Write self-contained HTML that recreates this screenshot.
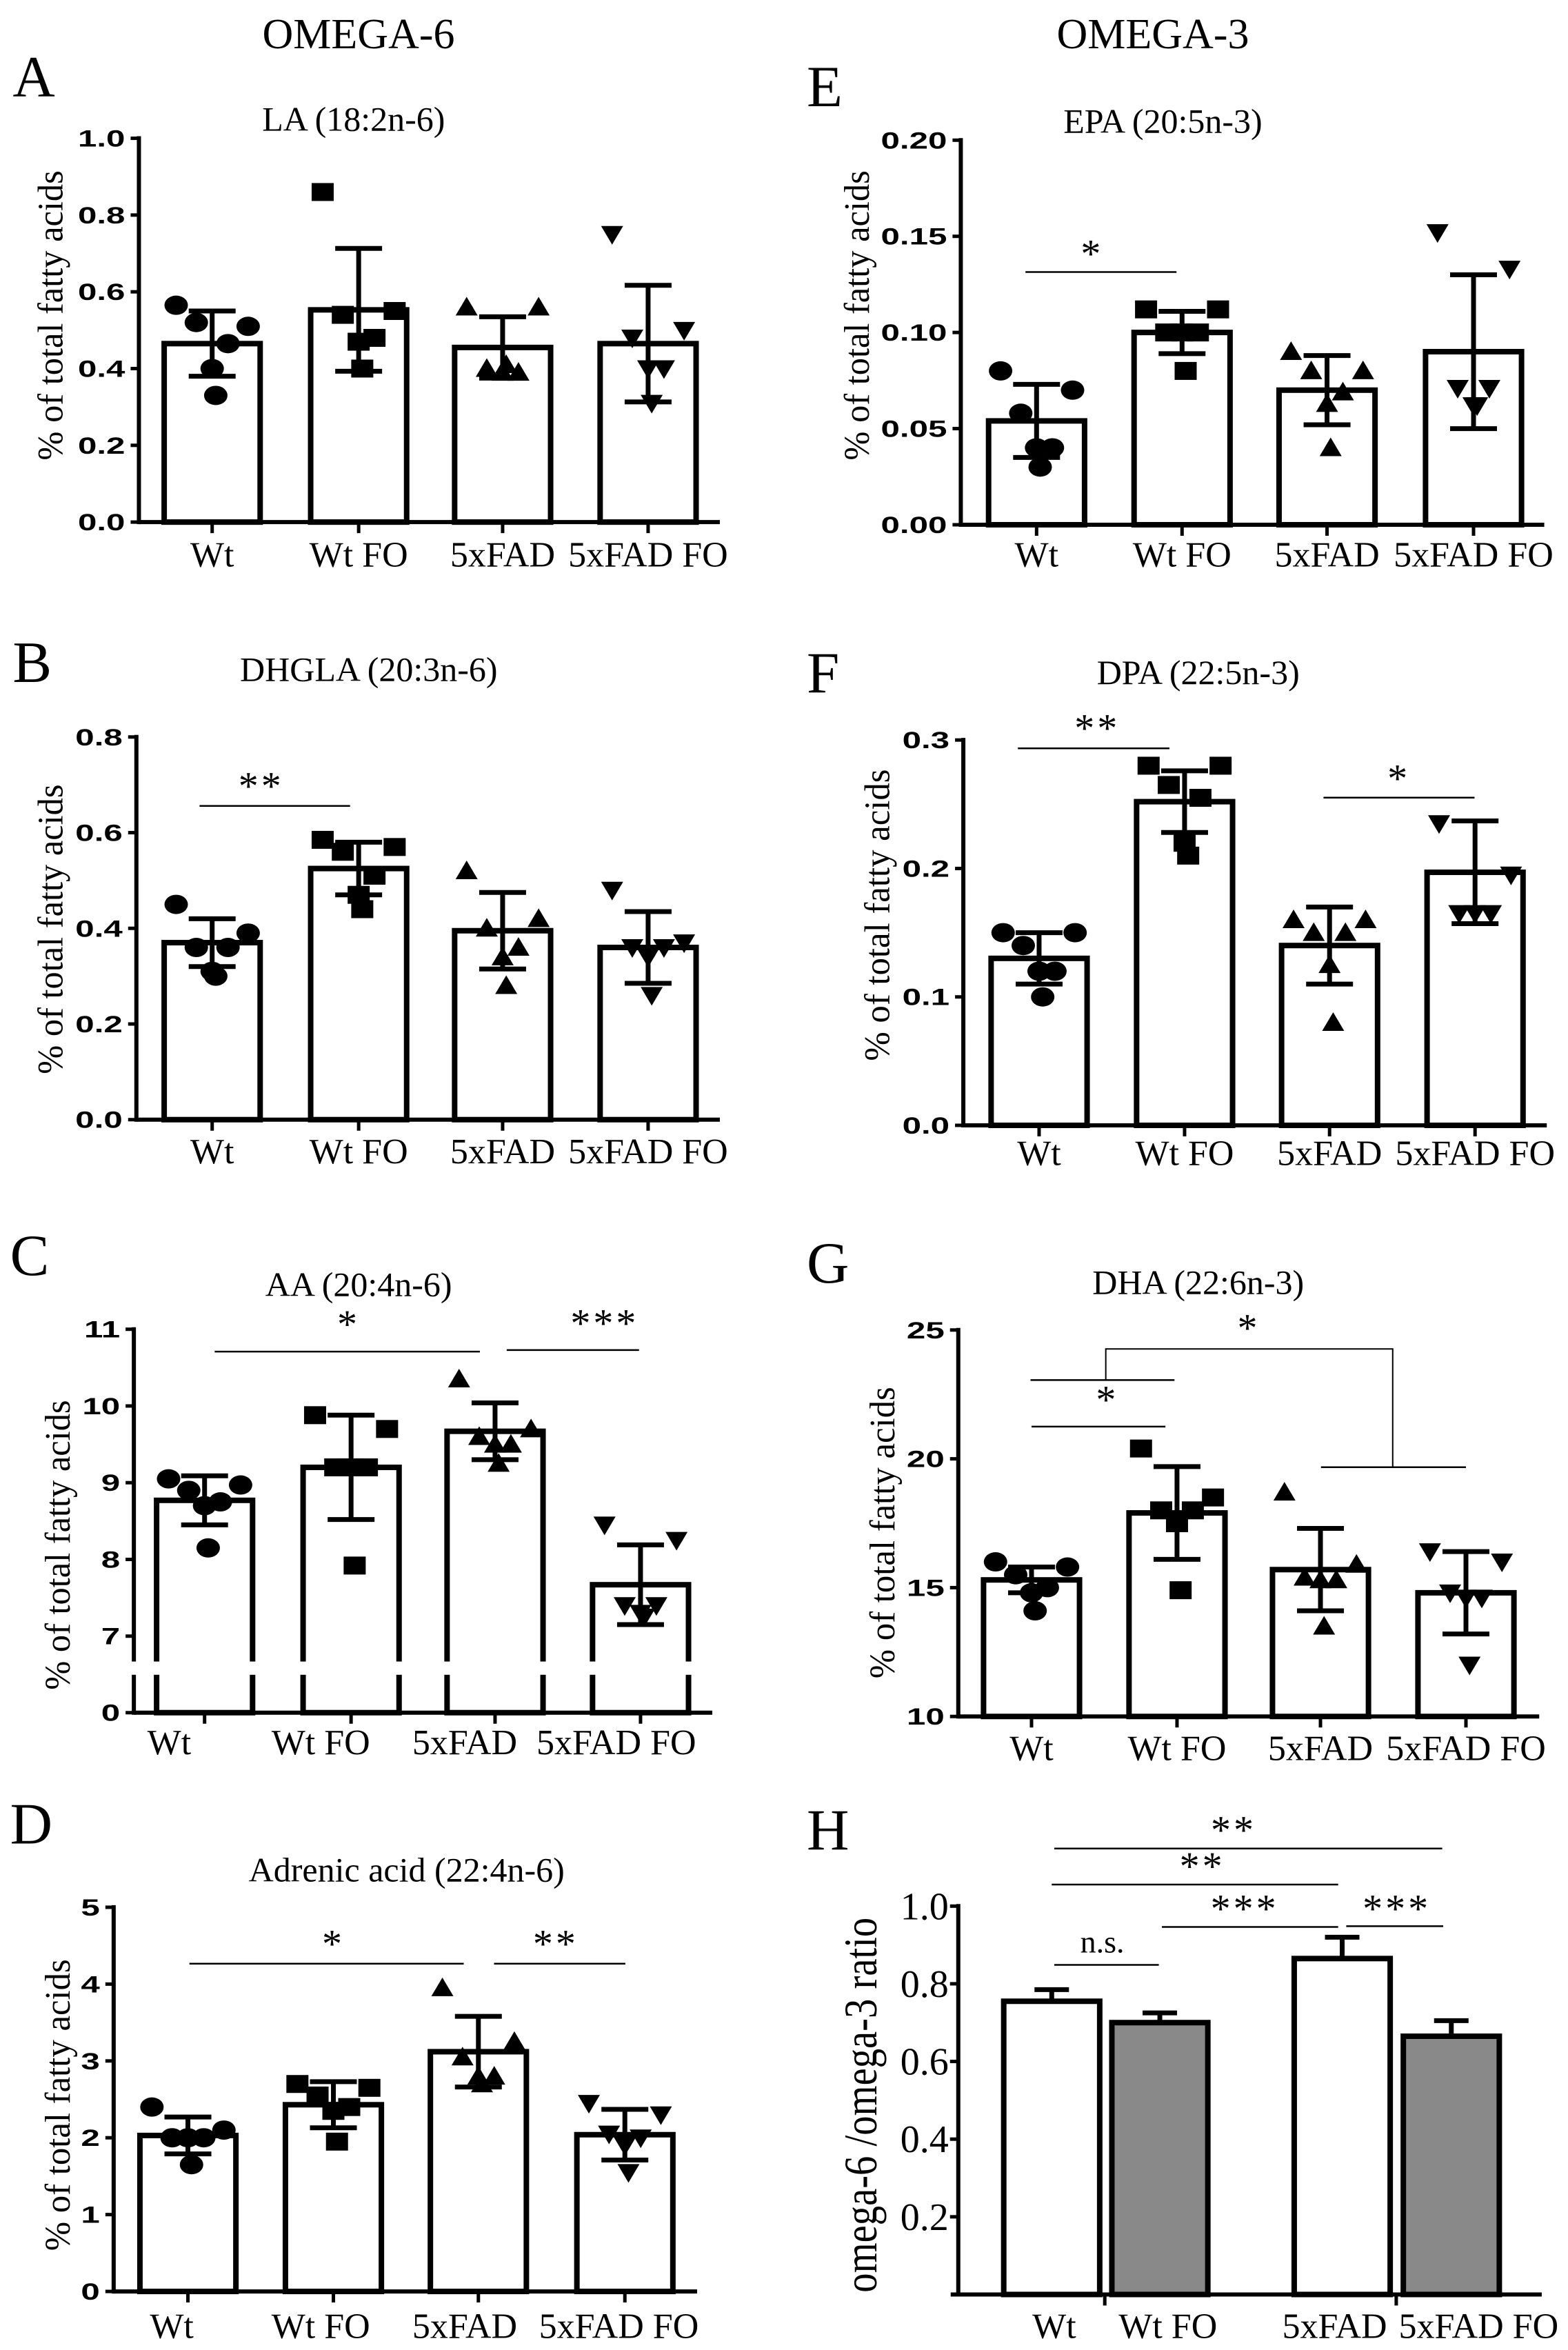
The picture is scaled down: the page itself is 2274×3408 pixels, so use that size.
<!DOCTYPE html>
<html><head><meta charset="utf-8">
<style>
html,body{margin:0;padding:0;background:#fff;}
svg{display:block;}
</style></head>
<body>
<svg id="fig" xmlns="http://www.w3.org/2000/svg" width="2274" height="3408" viewBox="0 0 2274 3408">
<rect x="0" y="0" width="2274" height="3408" fill="#fff"/>
<text x="520" y="70" font-family="Liberation Serif, serif" font-size="62" text-anchor="middle">OMEGA-6</text>
<text x="1672" y="70" font-family="Liberation Serif, serif" font-size="62" text-anchor="middle">OMEGA-3</text>
</svg>
<script>
const categories = ['Wt','Wt FO','5xFAD','5xFAD FO'];
// Panel A: LA
const aMeans = [0.465, 0.553, 0.455, 0.465];
const aSD = [0.085, 0.16, 0.08, 0.152];
const aPoints = [[0.565,0.51,0.52,0.465,0.40,0.33],[0.86,0.55,0.54,0.48,0.47,0.40],[0.56,0.56,0.40,0.39,0.39,0.41],[0.75,0.50,0.48,0.40,0.40,0.31]];
const aTicks = [0.0,0.2,0.4,0.6,0.8,1.0];
// Panel B: DHGLA
const bMeans = [0.37, 0.525, 0.395, 0.36];
const bSD = [0.05, 0.055, 0.08, 0.075];
const bPoints = [[0.45,0.39,0.36,0.36,0.31,0.30],[0.585,0.57,0.56,0.51,0.47,0.44],[0.52,0.42,0.40,0.36,0.34,0.28],[0.48,0.37,0.36,0.36,0.34,0.26]];
const bTicks = [0.0,0.2,0.4,0.6,0.8];
// Panel C: AA
const cMeans = [8.77, 9.2, 9.67, 7.67];
const cSD = [0.32, 0.68, 0.37, 0.52];
const cPoints = [[9.05,8.97,8.9,8.75,8.7,8.15],[9.88,9.7,9.2,9.2,9.2,7.92],[10.35,9.7,9.6,9.5,9.5,9.25],[8.45,8.25,7.4,7.4,7.3,7.25]];
const cTicks = [0,7,8,9,10,11];
// Panel D: Adrenic
const dMeans = [2.03, 2.43, 3.12, 2.04];
const dSD = [0.24, 0.3, 0.46, 0.33];
const dPoints = [[2.4,2.1,2.0,2.0,2.0,1.65],[2.7,2.65,2.55,2.4,2.35,1.95],[3.95,3.25,3.05,2.8,2.8,2.7],[2.45,2.3,2.05,2.0,1.9,1.55]];
const dTicks = [0,1,2,3,4,5];
// Panel E: EPA
const eMeans = [0.054, 0.10, 0.07, 0.09];
const eSD = [0.019, 0.011, 0.018, 0.04];
const ePoints = [[0.08,0.07,0.058,0.04,0.04,0.03],[0.112,0.112,0.10,0.10,0.10,0.08],[0.09,0.08,0.08,0.069,0.063,0.04],[0.152,0.133,0.071,0.071,0.062,0.062]];
const eTicks = [0.00,0.05,0.10,0.15,0.20];
// Panel F: DPA
const fMeans = [0.13, 0.252, 0.14, 0.197];
const fSD = [0.02, 0.024, 0.03, 0.04];
const fPoints = [[0.15,0.15,0.14,0.12,0.12,0.10],[0.28,0.28,0.265,0.255,0.22,0.21],[0.16,0.16,0.15,0.15,0.125,0.08],[0.235,0.195,0.165,0.165,0.165]];
const fTicks = [0.0,0.1,0.2,0.3];
// Panel G: DHA
const gMeans = [15.3, 17.9, 15.7, 14.8];
const gSD = [0.5, 1.8, 1.6, 1.6];
const gPoints = [[16.0,15.8,15.5,15.0,14.8,14.1],[20.4,18.5,18.0,18.0,17.5,14.9],[18.7,15.9,15.4,15.3,15.3,13.5],[16.4,16.0,14.8,14.6,14.6,12.0]];
const gTicks = [10,15,20,25];
// Panel H: ratio
const hMeans = [0.755, 0.70, 0.865, 0.665];
const hErr = [0.03, 0.025, 0.055, 0.04];
const hTicks = [0.2,0.4,0.6,0.8,1.0];

const NS = 'http://www.w3.org/2000/svg';
const svg = document.getElementById('fig');
const SX = 1/1.365, SY = 1/1.82;
function mk(tag, attrs, parent){
  const el = document.createElementNS(NS, tag);
  for (const k in attrs) el.setAttribute(k, attrs[k]);
  (parent||svg).appendChild(el);
  return el;
}
const serif = 'Liberation Serif, serif';
const sans = 'Liberation Sans, Arial, sans-serif';
const jitter = [-0.5, 0.5, -0.22, 0.22, 0, 0.05];

function drawPanel(c){
  const g = mk('g', {});
  
  
  const X = zx => c.ox + zx*SX;
  const Yz = zy => c.oy + zy*SY;
  const yv = v => {
    if (c.brk) {
      if (v <= 0) return Yz(c.y0);
      return Yz(c.brk.p7 - (v - c.brk.v7) * (c.brk.p7 - c.yTopPix) / (c.yTopVal - c.brk.v7));
    }
    return Yz(c.y0 - v * (c.y0 - c.yTopPix) / c.yTopVal);
  };
  const yMap = c.yMin !== undefined ? (v => Yz(c.y0 - (v - c.yMin) * (c.y0 - c.yTopPix) / (c.yTopVal - c.yMin))) : yv;
  let t = mk('text', {x: X(c.letterX), y: Yz(c.letterY), 'font-family': serif, 'font-size': 85}, g);
  t.textContent = c.letter;
  
  
  t = mk('text', {x: X(c.titleX), y: Yz(c.titleY), 'font-family': serif, 'font-size': 50, 'text-anchor': 'middle'}, g);
  t.textContent = c.title;
  
  
  const ly = (Yz(c.yl[1]) + Yz(c.yl[2])) / 2;
  t = mk('text', {x: 0, y: 0, transform: `translate(${X(c.yl[0]) + 17},${ly}) rotate(-90)`, 'font-family': serif, 'font-size': c.ylSize || 52, 'text-anchor': 'middle', textLength: Yz(c.yl[2]) - Yz(c.yl[1]), lengthAdjust: 'spacingAndGlyphs'}, g);
  t.textContent = c.ylabel || '% of total fatty acids';
  
  
  const ax = X(c.axisX);
  const y0 = Yz(c.y0);
  const hw = 95*SX;
  c.means.forEach((m, i) => {
    const cx = X(c.bars[i]);
    const top = yMap(m);
    const r = mk('rect', {x: cx - hw, y: top, width: 2*hw, height: y0 - top, fill: c.fills ? c.fills[i] : '#fff', stroke: '#000', 'stroke-width': 8}, g);
    
    
  });
  if (c.points) {
    c.points.forEach((arr, i) => {
      const cx = X(c.bars[i]);
      arr.forEach((v, j) => {
        const px = cx + jitter[j % jitter.length] * 2 * hw * 0.75;
        const py = yMap(v);
        let el;
        if (i === 0) el = mk('ellipse', {cx: px, cy: py, rx: 17, ry: 14, fill: '#000'}, g);
        else if (i === 1) el = mk('rect', {x: px - 16, y: py - 13, width: 32, height: 26, fill: '#000'}, g);
        else if (i === 2) el = mk('polygon', {points: `${px},${py-15} ${px+16},${py+12} ${px-16},${py+12}`, fill: '#000'}, g);
        else el = mk('polygon', {points: `${px},${py+15} ${px+16},${py-12} ${px-16},${py-12}`, fill: '#000'}, g);
        
        
      });
    });
  }
  c.means.forEach((m, i) => {
    const cx = X(c.bars[i]);
    const hi = yMap(m + c.sd[i]);
    const lo = c.upOnly ? yMap(m) : yMap(m - c.sd[i]);
    const l = mk('line', {x1: cx, y1: hi, x2: cx, y2: lo, stroke: '#000', 'stroke-width': 7}, g);
    
    
    const cw = c.upOnly ? 25 : 34;
    let cap = mk('line', {x1: cx - cw, y1: hi, x2: cx + cw, y2: hi, stroke: '#000', 'stroke-width': 7}, g);
    
    
    if (!c.upOnly) {
      cap = mk('line', {x1: cx - cw, y1: lo, x2: cx + cw, y2: lo, stroke: '#000', 'stroke-width': 7}, g);
      
      
    }
  });
  let a = mk('line', {x1: ax, y1: Yz(c.yTopPix) - 3, x2: ax, y2: y0 + 3, stroke: '#000', 'stroke-width': 6}, g);
  
  
  a = mk('line', {x1: X(c.xStart !== undefined ? c.xStart : c.axisX), y1: y0, x2: X(c.xEnd), y2: y0, stroke: '#000', 'stroke-width': 6}, g);
  
  
  if (c.brk) {
    const w = mk('rect', {x: ax - 20, y: Yz(c.brk.g1), width: X(c.xEnd) - ax + 30, height: Yz(c.brk.g2) - Yz(c.brk.g1), fill: '#fff'}, g);
    
    
  }
  c.ticks.forEach(v => {
    const y = yMap(v);
    const tk = mk('line', {x1: ax - 12, y1: y, x2: ax, y2: y, stroke: '#000', 'stroke-width': 5}, g);
    
    
    let lab;
    if (c.serifTicks) {
      lab = mk('text', {x: ax - 14, y: y + 19, 'font-family': serif, 'font-size': 56, 'text-anchor': 'end'}, g);
    } else {
      lab = mk('text', {x: 0, y: 0, transform: `translate(${ax - 20},${y + 12}) scale(1.45,1)`, 'font-family': sans, 'font-weight': 'bold', 'font-size': 34, 'text-anchor': 'end'}, g);
    }
    lab.textContent = v.toFixed(c.dec);
    
    
  });
  const tx = c.xTicks || c.bars;
  tx.forEach(zx => {
    const tk = mk('line', {x1: X(zx), y1: y0, x2: X(zx), y2: y0 + 16, stroke: '#000', 'stroke-width': 5}, g);
    
    
  });
  const lx = c.labelX || c.bars;
  categories.forEach((name, i) => {
    const lab = mk('text', {x: X(lx[i]), y: Yz(c.labelY), 'font-family': serif, 'font-size': 52, 'text-anchor': 'middle'}, g);
    lab.textContent = name;
    
    
  });
  (c.sig || []).forEach(s => {
    if (s.poly) {
      const p = mk('polyline', {points: s.poly.map(q => X(q[0]) + ',' + Yz(q[1])).join(' '), fill: 'none', stroke: '#000', 'stroke-width': 2}, g);
      
      
    } else {
      const l = mk('line', {x1: X(s.x1), y1: Yz(s.y), x2: X(s.x2), y2: Yz(s.y), stroke: '#000', 'stroke-width': 2.5}, g);
      
      
    }
    if (s.text) {
      const st = mk('text', {x: X(s.tx), y: Yz(s.ty), 'font-family': serif, 'font-size': s.text === 'n.s.' ? 46 : 58, 'text-anchor': 'middle', 'letter-spacing': s.text === 'n.s.' ? 0 : 4}, g);
      st.textContent = s.text;
      
      
    }
  });
}

const L = [420, 710, 995, 1283];
drawPanel({letter:'A', ox:0, oy:0, axisX:275, xEnd:1425, yTopPix:365, yTopVal:1.0, y0:1378, bars:L, labelY:1495,
  title:'LA (18:2n-6)', titleX:700, titleY:345, letterX:25, letterY:255, yl:[100,450,1215],
  means:aMeans, sd:aSD, points:aPoints, ticks:aTicks, dec:1});
drawPanel({letter:'B', ox:0, oy:860, axisX:270, xEnd:1425, yTopPix:380, yTopVal:0.8, y0:1390, bars:L, labelY:1505,
  title:'DHGLA (20:3n-6)', titleX:730, titleY:232, letterX:25, letterY:235, yl:[100,505,1270],
  means:bMeans, sd:bSD, points:bPoints, ticks:bTicks, dec:1,
  sig:[{x1:395,x2:693,y:562,text:'**',tx:517,ty:545}]});
drawPanel({letter:'C', ox:0, oy:1720, axisX:265, xEnd:1410, yTopPix:378, yTopVal:11, y0:1390, bars:[405,695,980,1268],
  brk:{v7:7, p7:1188, g1:1255, g2:1290}, labelX:[335,635,920,1220], labelY:1500,
  title:'AA (20:4n-6)', titleX:710, titleY:290, letterX:20, letterY:235, yl:[115,565,1330],
  means:cMeans, sd:cSD, points:cPoints, ticks:cTicks, dec:0,
  sig:[{x1:425,x2:950,y:437,text:'*',tx:690,ty:400},{x1:1003,x2:1265,y:433,text:'***',tx:1197,ty:398}]});
drawPanel({letter:'D', ox:0, oy:2550, axisX:225, xEnd:1380, yTopPix:393, yTopVal:5, y0:1407, bars:[372,660,947,1237],
  labelX:[340,635,920,1225], labelY:1530,
  title:'Adrenic acid (22:4n-6)', titleX:805, titleY:325, letterX:20, letterY:225, yl:[115,530,1300],
  means:dMeans, sd:dSD, points:dPoints, ticks:dTicks, dec:0,
  sig:[{x1:375,x2:918,y:542,text:'*',tx:660,ty:525},{x1:978,x2:1238,y:542,text:'**',tx:1100,ty:525}]});
drawPanel({letter:'E', ox:1137, oy:0, axisX:350, xEnd:1505, yTopPix:370, yTopVal:0.20, y0:1385, bars:[500,788,1075,1365], labelY:1495,
  title:'EPA (20:5n-3)', titleX:750, titleY:350, letterX:45, letterY:280, yl:[145,450,1215],
  means:eMeans, sd:eSD, points:ePoints, ticks:eTicks, dec:2,
  sig:[{x1:478,x2:777,y:718,text:'*',tx:610,ty:705}]});
drawPanel({letter:'F', ox:1137, oy:860, axisX:355, xEnd:1510, yTopPix:388, yTopVal:0.3, y0:1405, bars:[505,793,1080,1368], labelY:1510,
  title:'DPA (22:5n-3)', titleX:820, titleY:240, letterX:45, letterY:262, yl:[185,465,1235],
  means:fMeans, sd:fSD, points:fPoints, ticks:fTicks, dec:1,
  sig:[{x1:463,x2:763,y:410,text:'**',tx:620,ty:392},{x1:1068,x2:1367,y:540,text:'*',tx:1217,ty:525}]});
drawPanel({letter:'G', ox:1137, oy:1720, axisX:345, xEnd:1495, yTopPix:380, yTopVal:25, yMin:10, y0:1400, bars:[490,778,1062,1350], labelY:1515,
  title:'DHA (22:6n-3)', titleX:820, titleY:285, letterX:45, letterY:255, yl:[195,530,1300],
  means:gMeans, sd:gSD, points:gPoints, ticks:gTicks, dec:0,
  sig:[{x1:490,x2:755,y:635,text:'*',tx:640,ty:600},
       {x1:488,x2:773,y:512},
       {poly:[[637,512],[637,430],[1205,430],[1205,742]]},
       {x1:1063,x2:1350,y:742,text:'*',tx:920,ty:410}]});
drawPanel({letter:'H', ox:1137, oy:2550, axisX:345, xStart:330, xEnd:1500, yTopPix:390, yTopVal:1.0, y0:1415,
  bars:[530,744,1105,1321], xTicks:[635,1212], labelX:[535,760,1090,1375], labelY:1530, upOnly:true,
  fills:['#fff','#898989','#fff','#898989'], serifTicks:true,
  title:'', titleX:0, titleY:0, letterX:45, letterY:240, yl:[160,420,1410], ylabel:'omega-6 /omega-3 ratio', ylSize:68,
  means:hMeans, sd:hErr, ticks:hTicks, dec:1,
  sig:[{x1:535,x2:1303,y:238,text:'**',tx:890,ty:225},{x1:530,x2:1097,y:333,text:'**',tx:828,ty:320},
       {x1:748,x2:1097,y:445,text:'***',tx:912,ty:432},{x1:1113,x2:1305,y:443,text:'***',tx:1213,ty:432},
       {x1:535,x2:742,y:545,text:'n.s.',tx:630,ty:512}]});
</script>
</body></html>
